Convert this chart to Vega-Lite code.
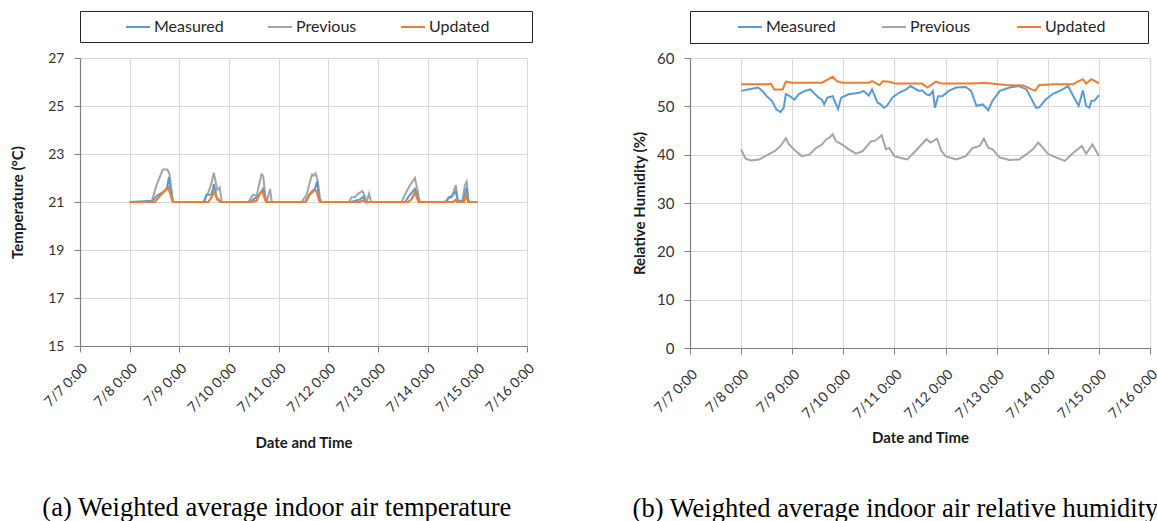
{
  "$schema": "https://vega.github.io/schema/vega-lite/v6.json",
  "background": "white",
  "padding": {"left": 10, "top": 10, "right": 0, "bottom": 0},
  "config": {
    "font": "Lato",
    "view": {"stroke": null},
    "axis": {
      "labelFont": "Lato",
      "labelFontSize": 14,
      "labelColor": "#333333",
      "titleFont": "Lato",
      "titleFontSize": 15,
      "titleFontWeight": "bold",
      "titleColor": "#1a1a1a",
      "domainColor": "#7f7f7f",
      "domainWidth": 1.2,
      "tickColor": "#7f7f7f",
      "tickSize": 6,
      "gridColor": "#d9d9d9",
      "gridWidth": 1
    },
    "title": {"font": "Liberation Serif", "fontSize": 26.5, "fontWeight": "normal", "color": "#000000"}
  },
  "datasets": {
    "temp": [
      {"s": "Measured", "t": "2020-07-08T00:00", "v": 21.0},
      {"s": "Measured", "t": "2020-07-08T11:00", "v": 21.05},
      {"s": "Measured", "t": "2020-07-08T13:00", "v": 21.25},
      {"s": "Measured", "t": "2020-07-08T16:15", "v": 21.42},
      {"s": "Measured", "t": "2020-07-08T17:55", "v": 21.55},
      {"s": "Measured", "t": "2020-07-08T19:00", "v": 22.04},
      {"s": "Measured", "t": "2020-07-08T20:20", "v": 21.1},
      {"s": "Measured", "t": "2020-07-08T21:00", "v": 21.0},
      {"s": "Measured", "t": "2020-07-09T12:00", "v": 21.0},
      {"s": "Measured", "t": "2020-07-09T13:10", "v": 21.3},
      {"s": "Measured", "t": "2020-07-09T15:35", "v": 21.3},
      {"s": "Measured", "t": "2020-07-09T16:40", "v": 21.75},
      {"s": "Measured", "t": "2020-07-09T18:00", "v": 21.2},
      {"s": "Measured", "t": "2020-07-09T19:00", "v": 21.1},
      {"s": "Measured", "t": "2020-07-09T19:35", "v": 21.0},
      {"s": "Measured", "t": "2020-07-10T10:05", "v": 21.0},
      {"s": "Measured", "t": "2020-07-10T11:40", "v": 21.1},
      {"s": "Measured", "t": "2020-07-10T14:05", "v": 21.25},
      {"s": "Measured", "t": "2020-07-10T16:30", "v": 21.55},
      {"s": "Measured", "t": "2020-07-10T17:40", "v": 21.05},
      {"s": "Measured", "t": "2020-07-10T19:00", "v": 21.0},
      {"s": "Measured", "t": "2020-07-11T12:40", "v": 21.0},
      {"s": "Measured", "t": "2020-07-11T15:00", "v": 21.35},
      {"s": "Measured", "t": "2020-07-11T17:30", "v": 21.55},
      {"s": "Measured", "t": "2020-07-11T18:35", "v": 21.85},
      {"s": "Measured", "t": "2020-07-11T19:35", "v": 21.1},
      {"s": "Measured", "t": "2020-07-11T20:25", "v": 21.0},
      {"s": "Measured", "t": "2020-07-12T11:10", "v": 21.0},
      {"s": "Measured", "t": "2020-07-12T12:50", "v": 21.05},
      {"s": "Measured", "t": "2020-07-12T15:10", "v": 21.1},
      {"s": "Measured", "t": "2020-07-12T16:55", "v": 21.22},
      {"s": "Measured", "t": "2020-07-12T17:50", "v": 21.0},
      {"s": "Measured", "t": "2020-07-13T13:00", "v": 21.0},
      {"s": "Measured", "t": "2020-07-13T15:25", "v": 21.3},
      {"s": "Measured", "t": "2020-07-13T17:50", "v": 21.55},
      {"s": "Measured", "t": "2020-07-13T18:55", "v": 21.3},
      {"s": "Measured", "t": "2020-07-13T19:55", "v": 21.0},
      {"s": "Measured", "t": "2020-07-14T09:05", "v": 21.0},
      {"s": "Measured", "t": "2020-07-14T10:10", "v": 21.2},
      {"s": "Measured", "t": "2020-07-14T11:50", "v": 21.25},
      {"s": "Measured", "t": "2020-07-14T13:35", "v": 21.45},
      {"s": "Measured", "t": "2020-07-14T14:35", "v": 21.0},
      {"s": "Measured", "t": "2020-07-14T17:10", "v": 21.05},
      {"s": "Measured", "t": "2020-07-14T18:50", "v": 21.6},
      {"s": "Measured", "t": "2020-07-14T19:40", "v": 21.05},
      {"s": "Measured", "t": "2020-07-14T20:25", "v": 21.0},
      {"s": "Measured", "t": "2020-07-15T00:00", "v": 21.0},

      {"s": "Previous", "t": "2020-07-08T00:00", "v": 21.0},
      {"s": "Previous", "t": "2020-07-08T10:35", "v": 21.0},
      {"s": "Previous", "t": "2020-07-08T13:00", "v": 21.7},
      {"s": "Previous", "t": "2020-07-08T16:00", "v": 22.35},
      {"s": "Previous", "t": "2020-07-08T18:10", "v": 22.35},
      {"s": "Previous", "t": "2020-07-08T19:10", "v": 22.2},
      {"s": "Previous", "t": "2020-07-08T21:00", "v": 21.0},
      {"s": "Previous", "t": "2020-07-09T11:35", "v": 21.0},
      {"s": "Previous", "t": "2020-07-09T14:00", "v": 21.4},
      {"s": "Previous", "t": "2020-07-09T15:35", "v": 21.8},
      {"s": "Previous", "t": "2020-07-09T16:40", "v": 22.22},
      {"s": "Previous", "t": "2020-07-09T18:20", "v": 21.5},
      {"s": "Previous", "t": "2020-07-09T19:30", "v": 21.6},
      {"s": "Previous", "t": "2020-07-09T20:30", "v": 21.0},
      {"s": "Previous", "t": "2020-07-10T09:20", "v": 21.0},
      {"s": "Previous", "t": "2020-07-10T11:40", "v": 21.3},
      {"s": "Previous", "t": "2020-07-10T13:20", "v": 21.25},
      {"s": "Previous", "t": "2020-07-10T15:40", "v": 22.15},
      {"s": "Previous", "t": "2020-07-10T16:30", "v": 22.1},
      {"s": "Previous", "t": "2020-07-10T17:40", "v": 21.2},
      {"s": "Previous", "t": "2020-07-10T18:35", "v": 21.1},
      {"s": "Previous", "t": "2020-07-10T19:50", "v": 21.55},
      {"s": "Previous", "t": "2020-07-10T20:40", "v": 21.0},
      {"s": "Previous", "t": "2020-07-11T11:00", "v": 21.0},
      {"s": "Previous", "t": "2020-07-11T13:30", "v": 21.3},
      {"s": "Previous", "t": "2020-07-11T15:00", "v": 21.8},
      {"s": "Previous", "t": "2020-07-11T16:10", "v": 22.15},
      {"s": "Previous", "t": "2020-07-11T17:00", "v": 22.1},
      {"s": "Previous", "t": "2020-07-11T17:50", "v": 22.2},
      {"s": "Previous", "t": "2020-07-11T18:50", "v": 21.9},
      {"s": "Previous", "t": "2020-07-11T19:55", "v": 21.2},
      {"s": "Previous", "t": "2020-07-11T20:40", "v": 21.0},
      {"s": "Previous", "t": "2020-07-12T10:00", "v": 21.0},
      {"s": "Previous", "t": "2020-07-12T11:10", "v": 21.2},
      {"s": "Previous", "t": "2020-07-12T12:50", "v": 21.2},
      {"s": "Previous", "t": "2020-07-12T14:25", "v": 21.35},
      {"s": "Previous", "t": "2020-07-12T16:30", "v": 21.45},
      {"s": "Previous", "t": "2020-07-12T17:20", "v": 21.3},
      {"s": "Previous", "t": "2020-07-12T18:30", "v": 21.0},
      {"s": "Previous", "t": "2020-07-12T19:40", "v": 21.35},
      {"s": "Previous", "t": "2020-07-12T20:40", "v": 21.0},
      {"s": "Previous", "t": "2020-07-13T11:25", "v": 21.0},
      {"s": "Previous", "t": "2020-07-13T13:00", "v": 21.3},
      {"s": "Previous", "t": "2020-07-13T15:25", "v": 21.7},
      {"s": "Previous", "t": "2020-07-13T17:50", "v": 22.0},
      {"s": "Previous", "t": "2020-07-13T19:05", "v": 21.5},
      {"s": "Previous", "t": "2020-07-13T20:10", "v": 21.0},
      {"s": "Previous", "t": "2020-07-14T08:20", "v": 21.0},
      {"s": "Previous", "t": "2020-07-14T09:55", "v": 21.15},
      {"s": "Previous", "t": "2020-07-14T11:30", "v": 21.2},
      {"s": "Previous", "t": "2020-07-14T12:35", "v": 21.45},
      {"s": "Previous", "t": "2020-07-14T13:35", "v": 21.7},
      {"s": "Previous", "t": "2020-07-14T14:40", "v": 21.05},
      {"s": "Previous", "t": "2020-07-14T16:40", "v": 21.05},
      {"s": "Previous", "t": "2020-07-14T18:00", "v": 21.7},
      {"s": "Previous", "t": "2020-07-14T18:50", "v": 21.85},
      {"s": "Previous", "t": "2020-07-14T19:40", "v": 21.1},
      {"s": "Previous", "t": "2020-07-14T20:25", "v": 21.0},
      {"s": "Previous", "t": "2020-07-15T00:00", "v": 21.0},

      {"s": "Updated", "t": "2020-07-08T00:00", "v": 21.0},
      {"s": "Updated", "t": "2020-07-08T12:10", "v": 21.0},
      {"s": "Updated", "t": "2020-07-08T14:35", "v": 21.25},
      {"s": "Updated", "t": "2020-07-08T16:15", "v": 21.4},
      {"s": "Updated", "t": "2020-07-08T18:40", "v": 21.6},
      {"s": "Updated", "t": "2020-07-08T19:50", "v": 21.3},
      {"s": "Updated", "t": "2020-07-08T21:00", "v": 21.0},
      {"s": "Updated", "t": "2020-07-09T14:00", "v": 21.0},
      {"s": "Updated", "t": "2020-07-09T15:35", "v": 21.2},
      {"s": "Updated", "t": "2020-07-09T16:55", "v": 21.45},
      {"s": "Updated", "t": "2020-07-09T18:20", "v": 21.1},
      {"s": "Updated", "t": "2020-07-09T19:20", "v": 21.05},
      {"s": "Updated", "t": "2020-07-09T20:25", "v": 21.0},
      {"s": "Updated", "t": "2020-07-10T10:55", "v": 21.0},
      {"s": "Updated", "t": "2020-07-10T13:20", "v": 21.05},
      {"s": "Updated", "t": "2020-07-10T14:55", "v": 21.35},
      {"s": "Updated", "t": "2020-07-10T16:10", "v": 21.45},
      {"s": "Updated", "t": "2020-07-10T17:25", "v": 21.1},
      {"s": "Updated", "t": "2020-07-10T18:10", "v": 21.0},
      {"s": "Updated", "t": "2020-07-11T13:10", "v": 21.0},
      {"s": "Updated", "t": "2020-07-11T15:00", "v": 21.3},
      {"s": "Updated", "t": "2020-07-11T17:30", "v": 21.5},
      {"s": "Updated", "t": "2020-07-11T18:20", "v": 21.45},
      {"s": "Updated", "t": "2020-07-11T19:35", "v": 21.05},
      {"s": "Updated", "t": "2020-07-11T20:10", "v": 21.0},
      {"s": "Updated", "t": "2020-07-12T15:10", "v": 21.0},
      {"s": "Updated", "t": "2020-07-12T16:55", "v": 21.07},
      {"s": "Updated", "t": "2020-07-12T17:50", "v": 21.0},
      {"s": "Updated", "t": "2020-07-13T14:35", "v": 21.0},
      {"s": "Updated", "t": "2020-07-13T16:10", "v": 21.1},
      {"s": "Updated", "t": "2020-07-13T17:50", "v": 21.4},
      {"s": "Updated", "t": "2020-07-13T18:55", "v": 21.15},
      {"s": "Updated", "t": "2020-07-13T19:40", "v": 21.0},
      {"s": "Updated", "t": "2020-07-14T12:20", "v": 21.0},
      {"s": "Updated", "t": "2020-07-14T13:20", "v": 21.08},
      {"s": "Updated", "t": "2020-07-14T14:20", "v": 21.0},
      {"s": "Updated", "t": "2020-07-14T17:30", "v": 21.0},
      {"s": "Updated", "t": "2020-07-14T18:25", "v": 21.3},
      {"s": "Updated", "t": "2020-07-14T19:35", "v": 21.0},
      {"s": "Updated", "t": "2020-07-15T00:00", "v": 21.0}
    ],
    "rh": [
      {"s": "Measured", "t": "2020-07-08T00:00", "v": 53.2},
      {"s": "Measured", "t": "2020-07-08T05:00", "v": 53.65},
      {"s": "Measured", "t": "2020-07-08T08:00", "v": 53.9},
      {"s": "Measured", "t": "2020-07-08T10:00", "v": 53.2},
      {"s": "Measured", "t": "2020-07-08T12:00", "v": 52.1},
      {"s": "Measured", "t": "2020-07-08T14:30", "v": 51.1},
      {"s": "Measured", "t": "2020-07-08T16:30", "v": 49.4},
      {"s": "Measured", "t": "2020-07-08T18:30", "v": 48.8},
      {"s": "Measured", "t": "2020-07-08T20:00", "v": 49.7},
      {"s": "Measured", "t": "2020-07-08T21:00", "v": 52.5},
      {"s": "Measured", "t": "2020-07-08T22:30", "v": 52.2},
      {"s": "Measured", "t": "2020-07-09T01:00", "v": 51.4},
      {"s": "Measured", "t": "2020-07-09T03:00", "v": 52.5},
      {"s": "Measured", "t": "2020-07-09T06:00", "v": 53.2},
      {"s": "Measured", "t": "2020-07-09T08:30", "v": 53.5},
      {"s": "Measured", "t": "2020-07-09T10:00", "v": 52.8},
      {"s": "Measured", "t": "2020-07-09T12:30", "v": 51.8},
      {"s": "Measured", "t": "2020-07-09T14:00", "v": 51.4},
      {"s": "Measured", "t": "2020-07-09T15:00", "v": 50.4},
      {"s": "Measured", "t": "2020-07-09T16:30", "v": 51.8},
      {"s": "Measured", "t": "2020-07-09T19:00", "v": 52.1},
      {"s": "Measured", "t": "2020-07-09T21:30", "v": 49.4},
      {"s": "Measured", "t": "2020-07-09T23:00", "v": 51.8},
      {"s": "Measured", "t": "2020-07-10T02:30", "v": 52.5},
      {"s": "Measured", "t": "2020-07-10T07:30", "v": 52.8},
      {"s": "Measured", "t": "2020-07-10T09:30", "v": 53.2},
      {"s": "Measured", "t": "2020-07-10T12:00", "v": 52.2},
      {"s": "Measured", "t": "2020-07-10T13:30", "v": 53.5},
      {"s": "Measured", "t": "2020-07-10T16:00", "v": 50.8},
      {"s": "Measured", "t": "2020-07-10T17:30", "v": 50.4},
      {"s": "Measured", "t": "2020-07-10T19:00", "v": 49.7},
      {"s": "Measured", "t": "2020-07-10T20:30", "v": 50.1},
      {"s": "Measured", "t": "2020-07-10T23:00", "v": 51.8},
      {"s": "Measured", "t": "2020-07-11T02:00", "v": 52.8},
      {"s": "Measured", "t": "2020-07-11T05:30", "v": 53.5},
      {"s": "Measured", "t": "2020-07-11T07:30", "v": 54.2},
      {"s": "Measured", "t": "2020-07-11T11:30", "v": 53.2},
      {"s": "Measured", "t": "2020-07-11T13:00", "v": 53.3},
      {"s": "Measured", "t": "2020-07-11T15:00", "v": 52.5},
      {"s": "Measured", "t": "2020-07-11T16:30", "v": 52.3},
      {"s": "Measured", "t": "2020-07-11T18:00", "v": 53.2},
      {"s": "Measured", "t": "2020-07-11T19:00", "v": 49.7},
      {"s": "Measured", "t": "2020-07-11T20:30", "v": 52.1},
      {"s": "Measured", "t": "2020-07-11T22:30", "v": 52.1},
      {"s": "Measured", "t": "2020-07-12T01:30", "v": 53.2},
      {"s": "Measured", "t": "2020-07-12T05:00", "v": 53.9},
      {"s": "Measured", "t": "2020-07-12T09:30", "v": 54.0},
      {"s": "Measured", "t": "2020-07-12T12:00", "v": 53.2},
      {"s": "Measured", "t": "2020-07-12T14:30", "v": 50.1},
      {"s": "Measured", "t": "2020-07-12T17:30", "v": 50.4},
      {"s": "Measured", "t": "2020-07-12T20:00", "v": 49.2},
      {"s": "Measured", "t": "2020-07-12T22:00", "v": 51.1},
      {"s": "Measured", "t": "2020-07-13T01:30", "v": 53.2},
      {"s": "Measured", "t": "2020-07-13T06:00", "v": 53.9},
      {"s": "Measured", "t": "2020-07-13T10:30", "v": 54.2},
      {"s": "Measured", "t": "2020-07-13T14:00", "v": 53.5},
      {"s": "Measured", "t": "2020-07-13T16:00", "v": 51.8},
      {"s": "Measured", "t": "2020-07-13T18:30", "v": 49.7},
      {"s": "Measured", "t": "2020-07-13T20:00", "v": 49.8},
      {"s": "Measured", "t": "2020-07-13T23:00", "v": 51.4},
      {"s": "Measured", "t": "2020-07-14T02:30", "v": 52.6},
      {"s": "Measured", "t": "2020-07-14T07:00", "v": 53.5},
      {"s": "Measured", "t": "2020-07-14T09:30", "v": 54.2},
      {"s": "Measured", "t": "2020-07-14T12:00", "v": 52.1},
      {"s": "Measured", "t": "2020-07-14T14:30", "v": 50.1},
      {"s": "Measured", "t": "2020-07-14T16:30", "v": 53.3},
      {"s": "Measured", "t": "2020-07-14T18:00", "v": 50.1},
      {"s": "Measured", "t": "2020-07-14T19:30", "v": 49.7},
      {"s": "Measured", "t": "2020-07-14T20:30", "v": 51.1},
      {"s": "Measured", "t": "2020-07-14T22:00", "v": 51.2},
      {"s": "Measured", "t": "2020-07-15T00:00", "v": 52.3},

      {"s": "Previous", "t": "2020-07-08T00:00", "v": 41.1},
      {"s": "Previous", "t": "2020-07-08T02:00", "v": 39.2},
      {"s": "Previous", "t": "2020-07-08T04:30", "v": 38.8},
      {"s": "Previous", "t": "2020-07-08T08:30", "v": 39.0},
      {"s": "Previous", "t": "2020-07-08T13:00", "v": 40.1},
      {"s": "Previous", "t": "2020-07-08T16:00", "v": 40.8},
      {"s": "Previous", "t": "2020-07-08T18:30", "v": 41.8},
      {"s": "Previous", "t": "2020-07-08T21:00", "v": 43.4},
      {"s": "Previous", "t": "2020-07-08T22:30", "v": 42.1},
      {"s": "Previous", "t": "2020-07-09T01:30", "v": 40.8},
      {"s": "Previous", "t": "2020-07-09T04:30", "v": 39.7},
      {"s": "Previous", "t": "2020-07-09T08:00", "v": 40.0},
      {"s": "Previous", "t": "2020-07-09T11:00", "v": 41.3},
      {"s": "Previous", "t": "2020-07-09T14:00", "v": 42.1},
      {"s": "Previous", "t": "2020-07-09T16:00", "v": 43.2},
      {"s": "Previous", "t": "2020-07-09T17:30", "v": 43.5},
      {"s": "Previous", "t": "2020-07-09T19:00", "v": 44.2},
      {"s": "Previous", "t": "2020-07-09T20:30", "v": 42.8},
      {"s": "Previous", "t": "2020-07-09T23:30", "v": 42.1},
      {"s": "Previous", "t": "2020-07-10T02:30", "v": 41.1},
      {"s": "Previous", "t": "2020-07-10T06:00", "v": 40.2},
      {"s": "Previous", "t": "2020-07-10T09:00", "v": 40.7},
      {"s": "Previous", "t": "2020-07-10T13:00", "v": 42.8},
      {"s": "Previous", "t": "2020-07-10T15:00", "v": 42.9},
      {"s": "Previous", "t": "2020-07-10T18:00", "v": 44.0},
      {"s": "Previous", "t": "2020-07-10T20:00", "v": 41.1},
      {"s": "Previous", "t": "2020-07-10T21:30", "v": 41.4},
      {"s": "Previous", "t": "2020-07-11T00:00", "v": 39.7},
      {"s": "Previous", "t": "2020-07-11T04:00", "v": 39.2},
      {"s": "Previous", "t": "2020-07-11T06:00", "v": 39.0},
      {"s": "Previous", "t": "2020-07-11T10:00", "v": 40.8},
      {"s": "Previous", "t": "2020-07-11T15:00", "v": 43.2},
      {"s": "Previous", "t": "2020-07-11T17:00", "v": 42.5},
      {"s": "Previous", "t": "2020-07-11T20:00", "v": 43.3},
      {"s": "Previous", "t": "2020-07-11T22:00", "v": 40.8},
      {"s": "Previous", "t": "2020-07-12T00:00", "v": 39.7},
      {"s": "Previous", "t": "2020-07-12T05:00", "v": 39.0},
      {"s": "Previous", "t": "2020-07-12T09:30", "v": 39.7},
      {"s": "Previous", "t": "2020-07-12T12:30", "v": 41.3},
      {"s": "Previous", "t": "2020-07-12T16:00", "v": 41.8},
      {"s": "Previous", "t": "2020-07-12T18:00", "v": 43.3},
      {"s": "Previous", "t": "2020-07-12T20:00", "v": 41.5},
      {"s": "Previous", "t": "2020-07-12T22:00", "v": 41.1},
      {"s": "Previous", "t": "2020-07-13T01:30", "v": 39.4},
      {"s": "Previous", "t": "2020-07-13T06:00", "v": 38.9},
      {"s": "Previous", "t": "2020-07-13T10:30", "v": 39.0},
      {"s": "Previous", "t": "2020-07-13T14:00", "v": 40.1},
      {"s": "Previous", "t": "2020-07-13T17:00", "v": 41.1},
      {"s": "Previous", "t": "2020-07-13T19:30", "v": 42.5},
      {"s": "Previous", "t": "2020-07-13T21:00", "v": 41.8},
      {"s": "Previous", "t": "2020-07-14T00:00", "v": 40.2},
      {"s": "Previous", "t": "2020-07-14T04:00", "v": 39.4},
      {"s": "Previous", "t": "2020-07-14T08:00", "v": 38.7},
      {"s": "Previous", "t": "2020-07-14T12:00", "v": 40.4},
      {"s": "Previous", "t": "2020-07-14T16:00", "v": 41.8},
      {"s": "Previous", "t": "2020-07-14T18:00", "v": 40.2},
      {"s": "Previous", "t": "2020-07-14T21:00", "v": 42.1},
      {"s": "Previous", "t": "2020-07-15T00:00", "v": 39.7},

      {"s": "Updated", "t": "2020-07-08T00:00", "v": 54.55},
      {"s": "Updated", "t": "2020-07-08T13:00", "v": 54.55},
      {"s": "Updated", "t": "2020-07-08T14:00", "v": 54.7},
      {"s": "Updated", "t": "2020-07-08T15:30", "v": 53.5},
      {"s": "Updated", "t": "2020-07-08T19:30", "v": 53.5},
      {"s": "Updated", "t": "2020-07-08T21:00", "v": 55.1},
      {"s": "Updated", "t": "2020-07-09T00:00", "v": 54.9},
      {"s": "Updated", "t": "2020-07-09T14:00", "v": 54.9},
      {"s": "Updated", "t": "2020-07-09T19:00", "v": 56.1},
      {"s": "Updated", "t": "2020-07-09T21:00", "v": 55.2},
      {"s": "Updated", "t": "2020-07-09T23:30", "v": 54.9},
      {"s": "Updated", "t": "2020-07-10T12:00", "v": 54.9},
      {"s": "Updated", "t": "2020-07-10T13:30", "v": 55.2},
      {"s": "Updated", "t": "2020-07-10T17:00", "v": 54.4},
      {"s": "Updated", "t": "2020-07-10T18:30", "v": 55.2},
      {"s": "Updated", "t": "2020-07-10T21:30", "v": 55.1},
      {"s": "Updated", "t": "2020-07-11T00:30", "v": 54.7},
      {"s": "Updated", "t": "2020-07-11T13:00", "v": 54.7},
      {"s": "Updated", "t": "2020-07-11T15:30", "v": 53.9},
      {"s": "Updated", "t": "2020-07-11T19:30", "v": 55.1},
      {"s": "Updated", "t": "2020-07-11T22:30", "v": 54.7},
      {"s": "Updated", "t": "2020-07-12T12:30", "v": 54.7},
      {"s": "Updated", "t": "2020-07-12T18:00", "v": 54.9},
      {"s": "Updated", "t": "2020-07-13T04:30", "v": 54.4},
      {"s": "Updated", "t": "2020-07-13T12:30", "v": 54.3},
      {"s": "Updated", "t": "2020-07-13T18:00", "v": 53.2},
      {"s": "Updated", "t": "2020-07-13T20:00", "v": 54.4},
      {"s": "Updated", "t": "2020-07-14T04:00", "v": 54.55},
      {"s": "Updated", "t": "2020-07-14T12:00", "v": 54.55},
      {"s": "Updated", "t": "2020-07-14T14:00", "v": 55.1},
      {"s": "Updated", "t": "2020-07-14T16:30", "v": 55.6},
      {"s": "Updated", "t": "2020-07-14T18:00", "v": 54.7},
      {"s": "Updated", "t": "2020-07-14T20:30", "v": 55.6},
      {"s": "Updated", "t": "2020-07-14T23:30", "v": 54.9},
      {"s": "Updated", "t": "2020-07-15T00:00", "v": 54.7}
    ],
    "series": [
      {"s": "Measured"},
      {"s": "Previous"},
      {"s": "Updated"}
    ]
  },
  "hconcat": [
    {
      "vconcat": [
        {
          "width": 452,
          "height": 31,
          "view": {"stroke": "#262626", "strokeWidth": 1},
          "data": {"name": "series"},
          "mark": {"type": "line", "opacity": 0},
          "encoding": {
            "color": {
              "field": "s",
              "type": "nominal",
              "scale": {"domain": ["Measured", "Previous", "Updated"], "range": ["#5b9bd5", "#a5a5a5", "#ed7d31"]},
              "legend": {
                "orient": "none",
                "legendX": 45,
                "legendY": 3,
                "direction": "horizontal",
                "columns": 3,
                "columnPadding": 40,
                "title": null,
                "padding": 0,
                "symbolType": "stroke",
                "symbolSize": 576,
                "symbolStrokeWidth": 2,
                "symbolOpacity": 1,
                "labelFont": "Lato",
                "labelFontSize": 16,
                "labelColor": "#262626",
                "labelOffset": 3
              }
            }
          }
        },
        {
          "width": 447,
          "height": 288,
          "data": {"name": "temp"},
          "encoding": {
            "x": {
              "field": "t",
              "type": "temporal",
              "title": "Date and Time",
              "scale": {"domain": [{"year": 2020, "month": 7, "date": 7}, {"year": 2020, "month": 7, "date": 16}]},
              "axis": {
                "values": [
                  {"year": 2020, "month": 7, "date": 7}, {"year": 2020, "month": 7, "date": 8},
                  {"year": 2020, "month": 7, "date": 9}, {"year": 2020, "month": 7, "date": 10},
                  {"year": 2020, "month": 7, "date": 11}, {"year": 2020, "month": 7, "date": 12},
                  {"year": 2020, "month": 7, "date": 13}, {"year": 2020, "month": 7, "date": 14},
                  {"year": 2020, "month": 7, "date": 15}, {"year": 2020, "month": 7, "date": 16}
                ],
                "format": "%-m/%-d %-H:%M",
                "labelAngle": -45,
                "labelAlign": "right",
                "labelBaseline": "top",
                "labelPadding": 9,
                "labelOverlap": false,
                "labelFlush": false,
                "titlePadding": 21
              }
            },
            "y": {
              "field": "v",
              "type": "quantitative",
              "title": "Temperature (°C)",
              "scale": {"domain": [15, 27]},
              "axis": {"values": [15, 17, 19, 21, 23, 25, 27], "labelPadding": 10, "titlePadding": 22}
            },
            "color": {
              "field": "s",
              "type": "nominal",
              "scale": {"domain": ["Measured", "Previous", "Updated"], "range": ["#5b9bd5", "#a5a5a5", "#ed7d31"]},
              "legend": null
            }
          },
          "layer": [
            {"transform": [{"filter": "datum.s === 'Previous'"}], "mark": {"type": "line", "strokeWidth": 2}},
            {"transform": [{"filter": "datum.s === 'Measured'"}], "mark": {"type": "line", "strokeWidth": 2}},
            {"transform": [{"filter": "datum.s === 'Updated'"}], "mark": {"type": "line", "strokeWidth": 2.2}}
          ]
        }
      ],
      "spacing": 16,
      "bounds": "flush",
      "title": {"text": "(a) Weighted average indoor air temperature", "orient": "bottom", "anchor": "middle", "offset": 44, "dx": 3}
    },
    {
      "vconcat": [
        {
          "width": 458,
          "height": 32,
          "view": {"stroke": "#262626", "strokeWidth": 1},
          "data": {"name": "series"},
          "mark": {"type": "line", "opacity": 0},
          "encoding": {
            "color": {
              "field": "s",
              "type": "nominal",
              "scale": {"domain": ["Measured", "Previous", "Updated"], "range": ["#5b9bd5", "#a5a5a5", "#ed7d31"]},
              "legend": {
                "orient": "none",
                "legendX": 47,
                "legendY": 3,
                "direction": "horizontal",
                "columns": 3,
                "columnPadding": 42,
                "title": null,
                "padding": 0,
                "symbolType": "stroke",
                "symbolSize": 576,
                "symbolStrokeWidth": 2,
                "symbolOpacity": 1,
                "labelFont": "Lato",
                "labelFontSize": 16,
                "labelColor": "#262626",
                "labelOffset": 3
              }
            }
          }
        },
        {
          "width": 460,
          "height": 290,
          "data": {"name": "rh"},
          "encoding": {
            "x": {
              "field": "t",
              "type": "temporal",
              "title": "Date and Time",
              "scale": {"domain": [{"year": 2020, "month": 7, "date": 7}, {"year": 2020, "month": 7, "date": 16}]},
              "axis": {
                "values": [
                  {"year": 2020, "month": 7, "date": 7}, {"year": 2020, "month": 7, "date": 8},
                  {"year": 2020, "month": 7, "date": 9}, {"year": 2020, "month": 7, "date": 10},
                  {"year": 2020, "month": 7, "date": 11}, {"year": 2020, "month": 7, "date": 12},
                  {"year": 2020, "month": 7, "date": 13}, {"year": 2020, "month": 7, "date": 14},
                  {"year": 2020, "month": 7, "date": 15}, {"year": 2020, "month": 7, "date": 16}
                ],
                "format": "%-m/%-d %-H:%M",
                "labelAngle": -45,
                "labelAlign": "right",
                "labelBaseline": "top",
                "labelPadding": 13,
                "labelOverlap": false,
                "labelFlush": false,
                "titlePadding": 10
              }
            },
            "y": {
              "field": "v",
              "type": "quantitative",
              "title": "Relative Humidity (%)",
              "scale": {"domain": [0, 60]},
              "axis": {"values": [0, 10, 20, 30, 40, 50, 60], "labelPadding": 10, "titlePadding": 9, "labelFontSize": 15}
            },
            "color": {
              "field": "s",
              "type": "nominal",
              "scale": {"domain": ["Measured", "Previous", "Updated"], "range": ["#5b9bd5", "#a5a5a5", "#ed7d31"]},
              "legend": null
            }
          },
          "layer": [
            {"transform": [{"filter": "datum.s === 'Previous'"}], "mark": {"type": "line", "strokeWidth": 2}},
            {"transform": [{"filter": "datum.s === 'Measured'"}], "mark": {"type": "line", "strokeWidth": 2}},
            {"transform": [{"filter": "datum.s === 'Updated'"}], "mark": {"type": "line", "strokeWidth": 2}}
          ]
        }
      ],
      "spacing": 15,
      "bounds": "flush",
      "title": {"text": "(b) Weighted average indoor air relative humidity", "orient": "bottom", "anchor": "start", "offset": 50}
    }
  ],
  "spacing": 95,
  "resolve": {"scale": {"color": "independent"}, "legend": {"color": "independent"}}
}
